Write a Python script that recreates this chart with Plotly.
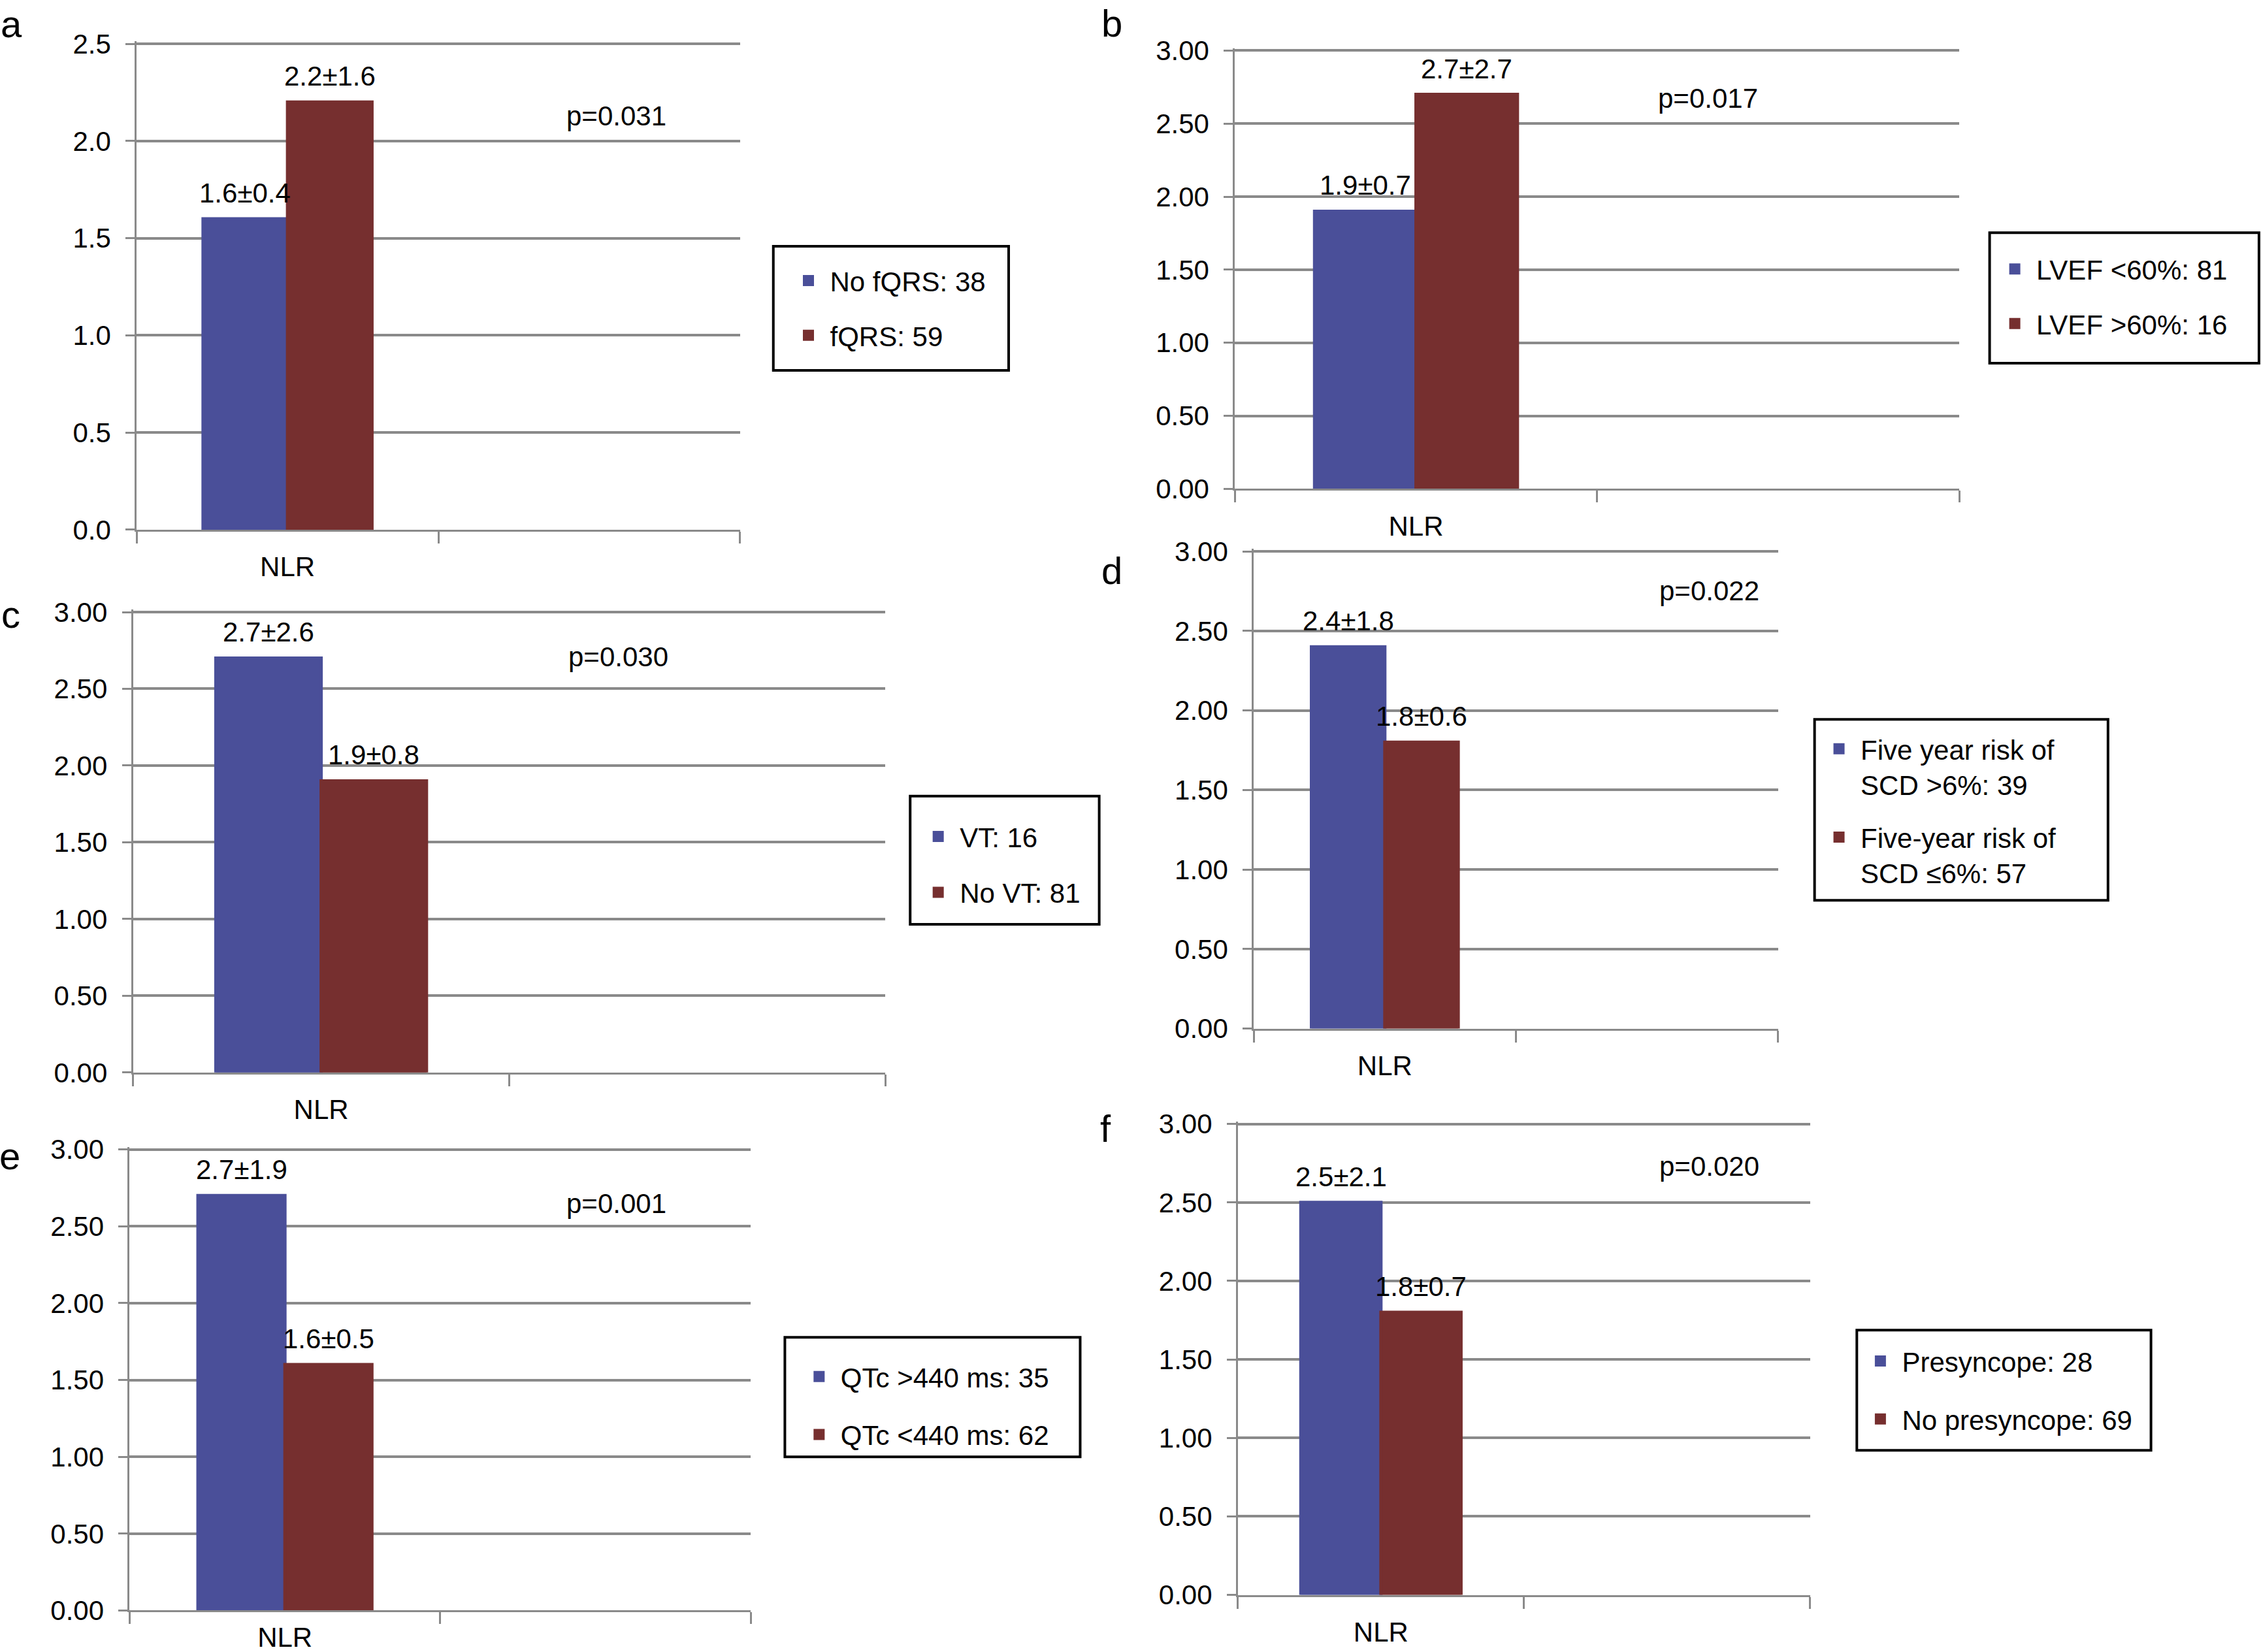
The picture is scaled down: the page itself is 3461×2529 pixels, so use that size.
import plotly.graph_objects as go

# ---------------- data ----------------
panel_letters = ["a", "b", "c", "d", "e", "f"]
category = "NLR"
means_group1 = [1.6, 1.9, 2.7, 2.4, 2.7, 2.5]
sds_group1 = [0.4, 0.7, 2.6, 1.8, 1.9, 2.1]
means_group2 = [2.2, 2.7, 1.9, 1.8, 1.6, 1.8]
sds_group2 = [1.6, 2.7, 0.8, 0.6, 0.5, 0.7]
names_group1 = ["No fQRS: 38", "LVEF <60%: 81", "VT: 16",
                "Five year risk of<br>SCD >6%: 39", "QTc >440 ms: 35", "Presyncope: 28"]
names_group2 = ["fQRS: 59", "LVEF >60%: 16", "No VT: 81",
                "Five-year risk of<br>SCD ≤6%: 57", "QTc <440 ms: 62", "No presyncope: 69"]
p_values = ["p=0.031", "p=0.017", "p=0.030", "p=0.022", "p=0.001", "p=0.020"]
y_max = [2.5, 3.0, 3.0, 3.0, 3.0, 3.0]
y_tickformat = [".1f", ".2f", ".2f", ".2f", ".2f", ".2f"]

# ---------------- layout geometry (reference px at 1568x1146) ----------------
RW, RH = 1568.0, 1146.0
S = 3461.0 / RW  # output px per reference px
def px(x):
    return x / RW
def py(y):
    return 1 - y / RH

# left, right, top, bottom of each plot area
boxes = [(94.8, 513.2, 30.4, 367.5),
         (856.4, 1358.8, 35.1, 339.1),
         (92.3, 614.0, 424.6, 744.0),
         (869.5, 1233.0, 382.5, 713.5),
         (89.9, 520.7, 797.4, 1117.2),
         (858.5, 1255.2, 779.7, 1106.4)]
# legend frame: left, right, top, bottom
legend_frames = [(536.3, 699.5, 170.8, 256.9),
                 (1379.8, 1566.6, 161.4, 251.9),
                 (631.2, 762.3, 552.3, 641.2),
                 (1258.4, 1461.9, 499.0, 624.5),
                 (544.3, 749.1, 927.7, 1010.6),
                 (1287.7, 1491.7, 922.7, 1006.1)]
# legend text start x, first item centre y
legend_text = [(575.6, 194.5), (1412.2, 186.4), (665.6, 580.1),
               (1290.3, 519.3), (583.0, 954.8), (1319.0, 944.0)]
legend_gap = [26, 26, 28, 23, 31, 31]
p_pos = [(427.6, 80.6), (1184.6, 68.4), (428.6, 455.8),
         (1185.3, 410.0), (427.3, 835.0), (1185.3, 809.0)]
letter_pos = [(8, 16.5), (771, 16.0), (7.4, 426), (771, 395.6), (7, 802), (767, 783)]
x_label_len = [18, 18, 18, 18, 2, 18]

BLUE = "#4a4f99"
RED = "#762f2f"
GRID = "#8a8a8a"
FONT = "Liberation Sans, Arial, Helvetica, sans-serif"
FS = 42
BAR_W = 0.28
ITEM_W = 56
PAD = 0.005

fig = go.Figure()
annotations = []
shapes = []
layout = dict(
    width=3461, height=2529,
    margin=dict(l=0, r=0, t=0, b=0, autoexpand=False),
    paper_bgcolor="white", plot_bgcolor="white",
    font=dict(family=FONT, size=FS, color="black"),
    barmode="overlay",
)

for i in range(6):
    sfx = "" if i == 0 else str(i + 1)
    xa, ya = "x" + sfx, "y" + sfx
    leg = "legend" + sfx
    L, R, T, B = boxes[i]
    for k, (m, s, nm, col, off) in enumerate([
            (means_group1[i], sds_group1[i], names_group1[i], BLUE, -BAR_W),
            (means_group2[i], sds_group2[i], names_group2[i], RED, 0.0)]):
        fig.add_trace(go.Bar(
            x=[0.5], y=[m], width=[BAR_W], offset=[off],
            marker=dict(color=col, line=dict(width=5, color=col)),
            name=nm, legend=leg, legendgroup=f"{i}-{k}",
            xaxis=xa, yaxis=ya, hoverinfo="skip",
        ))
        annotations.append(dict(
            x=0.5 + off + BAR_W / 2, y=m, xref=xa, yref=ya,
            text=f"{m:.1f}±{s:.1f}", showarrow=False,
            xanchor="center", yanchor="bottom", yshift=14,
            font=dict(size=FS, color="black", family=FONT),
        ))
    top_ext = T - PAD * (B - T)
    layout["xaxis" + sfx] = dict(
        domain=[px(L), px(R)], range=[0, 2], anchor=ya, automargin=False,
        showline=True, linecolor=GRID, linewidth=3,
        showgrid=False, zeroline=False,
        tickmode="array", tickvals=[0.5], ticktext=[category],
        ticks="outside", ticklen=x_label_len[i], tickcolor="rgba(0,0,0,0)",
        minor=dict(tickmode="array", tickvals=[0, 1, 2], ticks="outside",
                   ticklen=18, tickwidth=3, tickcolor=GRID, showgrid=False),
        tickfont=dict(size=FS, color="black", family=FONT),
        fixedrange=True,
    )
    layout["yaxis" + sfx] = dict(
        domain=[py(B), py(top_ext)], range=[0, y_max[i] * (1 + PAD)], anchor=xa,
        automargin=False,
        tickmode="array",
        tickvals=[j * 0.5 for j in range(int(round(y_max[i] / 0.5)) + 1)],
        tickformat=y_tickformat[i],
        showline=True, linecolor=GRID, linewidth=3,
        showgrid=True, gridcolor=GRID, gridwidth=4, zeroline=False,
        ticks="outside", ticklen=14, tickwidth=3, tickcolor=GRID,
        ticklabelstandoff=14,
        tickfont=dict(size=FS, color="black", family=FONT),
        fixedrange=True,
    )
    # legend (native) inside a drawn frame
    fl, fr, ft, fb = legend_frames[i]
    shapes.append(dict(type="rect", xref="paper", yref="paper",
                       x0=px(fl), x1=px(fr), y0=py(fb), y1=py(ft),
                       line=dict(color="black", width=4), fillcolor="rgba(0,0,0,0)",
                       layer="above"))
    tx, ty = legend_text[i]
    layout[leg] = dict(
        x=px(tx - (ITEM_W + 10) / S), y=py(ty - 33.5 / S),
        xanchor="left", yanchor="top", xref="paper", yref="paper",
        borderwidth=0, bgcolor="rgba(0,0,0,0)",
        font=dict(size=FS, color="black", family=FONT),
        tracegroupgap=legend_gap[i], itemwidth=ITEM_W,
        valign="top" if i == 3 else "middle",
        traceorder="grouped",
    )
    ppx, ppy = p_pos[i]
    annotations.append(dict(
        x=px(ppx), y=py(ppy), xref="paper", yref="paper",
        text=p_values[i], showarrow=False, xanchor="center", yanchor="middle",
        font=dict(size=FS, color="black", family=FONT),
    ))
    ltx, lty = letter_pos[i]
    annotations.append(dict(
        x=px(ltx), y=py(lty), xref="paper", yref="paper",
        text=panel_letters[i], showarrow=False, xanchor="center", yanchor="middle",
        font=dict(size=58, color="black", family=FONT),
    ))

layout["annotations"] = annotations
layout["shapes"] = shapes
fig.update_layout(**layout)
fig.write_html("out.html",
               config={"displayModeBar": False},
               post_script="document.body.style.margin='0';document.body.style.overflow='hidden';")
